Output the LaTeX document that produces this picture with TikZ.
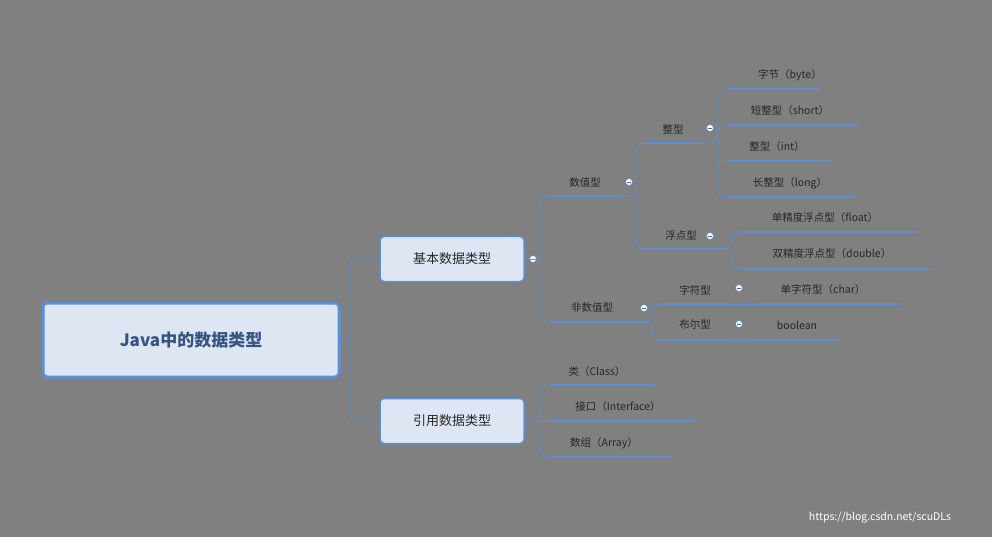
\documentclass[tikz,border=0pt]{standalone}
\usepackage{fontspec}
\setmainfont{Noto Sans CJK SC}
\begin{document}
\begin{tikzpicture}[x=1pt,y=-1pt,
  bl/.style={draw=lb,line width=0.9pt},
  ul/.style={draw=lb,line width=2pt},
  con/.style={draw=lb,line width=0.9pt,rounded corners=8pt},
  lf/.style={font=\fontsize{10.5}{12}\selectfont,text=black!85,inner sep=0pt},
  box/.style={draw=lb,fill=bf,rounded corners=4pt,line width=1.5pt,inner sep=0pt},
  mn/.style={circle,draw=lb,fill=white,line width=0.6pt,minimum size=7pt,inner sep=0pt,
    path picture={\draw[black!60,line width=0.6pt] ([xshift=-2pt]path picture bounding box.center)--([xshift=2pt]path picture bounding box.center);}}]
\definecolor{lb}{HTML}{5B8FD6}
\definecolor{bf}{HTML}{DDE6F2}
\useasboundingbox[fill={rgb,255:red,128;green,128;blue,128}] (0,0) rectangle (992,537);
% boxes
\node[box,line width=3pt,minimum width=296pt,minimum height=74pt,font=\bfseries\fontsize{17}{20}\selectfont,text={rgb,255:red,52;green,84;blue,132}] (root) at (191,340) {Java中的数据类型};
\node[box,minimum width=144pt,minimum height=45pt,font=\fontsize{13}{15}\selectfont,text=black!85] (jb) at (452,259) {基本数据类型};
\node[box,minimum width=144pt,minimum height=45pt,font=\fontsize{13}{15}\selectfont,text=black!85] (yy) at (452,421) {引用数据类型};
\draw[con] (root.east) -- (350,340) |- (jb.west);
\draw[con] (350,340) |- (yy.west);
% level 2
\node[mn] (c1) at (533,259) {};
\node[lf] (szx) at (585,183) {数值型};
\node[lf] (fsz) at (592,308) {非数值型};
\coordinate (a1) at (550,196); \coordinate (a2) at (620,196);
\coordinate (b1) at (550,322); \coordinate (b2) at (648,322);
\draw[ul] (a1)--(a2); \draw[ul] (b1)--(b2);
\draw[con] (a1) -| (540,259) |- (b1);
\draw[con] (c1.west) -- (540,259);
\node[mn] (c2) at (629,182) {};
\node[mn] (c3) at (644,308) {};
% 整型 / 浮点型
\node[lf] (zx) at (673,129) {整型};
\node[lf] (fd) at (681,236) {浮点型};
\coordinate (d1) at (645,143); \coordinate (d2) at (700,143);
\coordinate (e1) at (645,249); \coordinate (e2) at (728,249);
\draw[ul] (d1)--(d2); \draw[ul] (e1)--(e2);
\draw[con] (a2) -- (636,196) |- (d1);
\draw[con] (636,196) |- (e1);
\node[mn] (c4) at (710,128) {};
\node[mn] (c5) at (710,236) {};
% 字符型 / 布尔型
\node[lf] (zf) at (695,290) {字符型};
\node[lf] (be) at (695,325) {布尔型};
\coordinate (f1) at (660,304); \coordinate (f2) at (730,304);
\coordinate (g1) at (660,340); \coordinate (g2) at (730,340);
\draw[ul] (f1)--(f2); \draw[ul] (g1)--(g2);
\draw[con] (b2) -- (652,322) |- (f1);
\draw[con] (652,322) |- (g1);
\node[mn] (c6) at (739,288) {};
\node[mn] (c7) at (739,324) {};
% leaves of 整型
\node[lf] (l1) at (790,75) {字节（byte）};
\node[lf] (l2) at (790,111) {短整型（short）};
\node[lf] (l3) at (777,147) {整型（int）};
\node[lf] (l4) at (790,183) {长整型（long）};
\foreach \n/\y/\xe in {h1/89/820,h2/125/860,h3/161/830,h4/197/855}{
  \coordinate (\n) at (728,\y); \draw[ul] (\n)--(\xe,\y);}
\draw[con] (d2) -- (718,143) |- (h1);
\draw[con] (718,143) |- (h2);
\draw[con] (718,143) |- (h4);
\draw[bl] (718,161) -- (h3);
% 浮点 leaves
\node[lf] (l5) at (825,218) {单精度浮点型（float）};
\node[lf] (l6) at (832,254) {双精度浮点型（double）};
\coordinate (i1) at (742,232); \coordinate (i2) at (742,269);
\draw[ul] (i1)--(915,232); \draw[ul] (i2)--(930,269);
\draw[con] (e2) -- (732,249) |- (i1);
\draw[con] (732,249) |- (i2);
% 字符 / 布尔 leaves
\node[lf] (l7) at (823,290) {单字符型（char）};
\node[lf] (l8) at (797,325) {boolean};
\coordinate (j1) at (755,304); \coordinate (j2) at (755,340);
\draw[ul] (j1)--(900,304); \draw[ul] (j2)--(838,340);
\draw[bl] (f2)--(j1); \draw[bl] (g2)--(j2);
% 引用 leaves
\node[lf] (r1) at (597,372) {类（Class）};
\node[lf] (r2) at (618,407) {接口（Interface）};
\node[lf] (r3) at (604,443) {数组（Array）};
\coordinate (k1) at (550,385); \coordinate (k2) at (550,421); \coordinate (k3) at (550,457);
\draw[ul] (k1)--(655,385); \draw[ul] (k2)--(695,421); \draw[ul] (k3)--(670,457);
\draw[con] (yy.east) -- (540,421) |- (k1);
\draw[con] (540,421) |- (k3);
\draw[bl] (540,421) -- (k2);
% watermark
\node[text=white,font=\fontsize{10.5}{12}\selectfont,inner sep=0pt] (wm) at (880,518) {https://blog.csdn.net/scuDLs};
\end{tikzpicture}
\end{document}
